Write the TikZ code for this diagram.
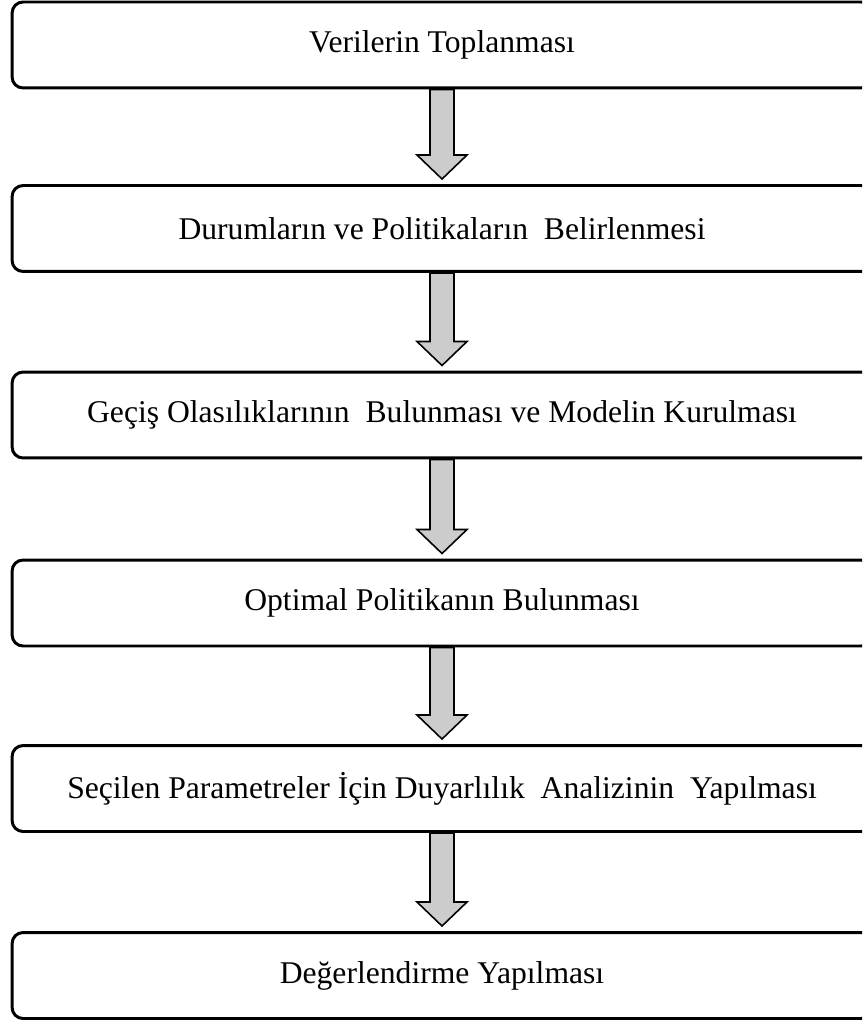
\documentclass[tikz,border=0pt]{standalone}
\usepackage{fontspec}
\setmainfont{Liberation Serif}
\usetikzlibrary{calc}
\tikzset{
  stagebox/.style={draw=black, line width=1.7pt, rounded corners=0.22cm, fill=white,
    minimum width=17.2cm, minimum height=1.72cm, inner sep=0pt,
    font=\fontsize{18}{21}\selectfont},
  flowarrow/.style={draw=black, line width=0.9pt, fill=black!20, line join=miter}
}
\newcommand{\flowdown}[2]{%
  \draw[flowarrow] ($(#1.south)+(-12,0)$) -- ($(#2.north)+(-12,-29)$) -- ($(#2.north)+(-25,-29)$)
    -- ($(#2.north)+(0,-5)$) -- ($(#2.north)+(25,-29)$) -- ($(#2.north)+(12,-29)$)
    -- ($(#1.south)+(12,0)$) -- cycle;}
\begin{document}
\begin{tikzpicture}[x=0.02cm, y=-0.02cm]
\useasboundingbox (0,0) rectangle (862,1023);
\clip (0,0) rectangle (862,1023);
\fill[white] (0,0) rectangle (862,1023);
\node[stagebox] (n1) at (442,45) {Verilerin Toplanması};
\node[stagebox] (n2) at (442,228.5) {Durumların ve Politikaların\ \ Belirlenmesi};
\node[stagebox] (n3) at (442,415) {Geçiş Olasılıklarının\ \ Bulunması ve Modelin Kurulması};
\node[stagebox] (n4) at (442,603) {Optimal Politikanın Bulunması};
\node[stagebox] (n5) at (442,788.5) {Seçilen Parametreler İçin Duyarlılık\ \ Analizinin\ \ Yapılması};
\node[stagebox] (n6) at (442,975.5) {Değerlendirme Yapılması};
\flowdown{n1}{n2}
\flowdown{n2}{n3}
\flowdown{n3}{n4}
\flowdown{n4}{n5}
\flowdown{n5}{n6}
\end{tikzpicture}
\end{document}
